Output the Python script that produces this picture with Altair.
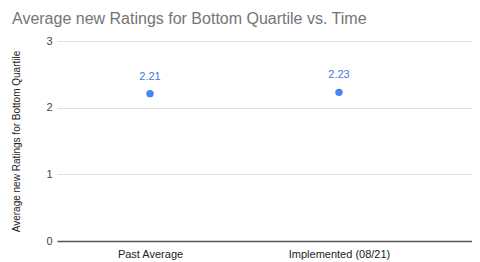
import altair as alt
import pandas as pd

categories = ["Past Average", "Implemented (08/21)"]
values = [2.21, 2.23]
labels = ["2.21", "2.23"]

df = pd.DataFrame({"cat": categories, "val": values, "lab": labels})

x = alt.X("cat:O", sort=categories,
          scale=alt.Scale(type="point", padding=0.598, align=0.4115),
          axis=alt.Axis(title=None, labelAngle=0, ticks=False, domain=True,
                        domainColor="#555555", domainWidth=1.5, grid=False,
                        labelFont="Liberation Sans", labelFontSize=11,
                        labelColor="#222222", labelPadding=7))
y = alt.Y("val:Q",
          scale=alt.Scale(domain=[0, 3], nice=False),
          axis=alt.Axis(title="Average new Ratings for Bottom Quartile", values=[0, 1, 2, 3],
                        format="d", ticks=False, domain=False, grid=True,
                        gridColor="#e0e0e0", labelFont="Liberation Sans",
                        labelFontSize=11, labelColor="#444444", labelPadding=5,
                        titleFont="Liberation Sans", titleFontSize=10,
                        titleFontWeight="normal", titleColor="#222222", titlePadding=24))

points = alt.Chart(df).mark_circle(size=55, color="#4285f4", opacity=1).encode(x=x, y=y)
text = alt.Chart(df).mark_text(dy=-17, font="Liberation Sans", fontSize=11,
                               color="#3f7ad6").encode(x=x, y=y, text="lab:N")

chart = (points + text).properties(
    width=415, height=200,
    title=alt.TitleParams("Average new Ratings for Bottom Quartile vs. Time",
                          font="Liberation Sans", fontSize=16, fontWeight="normal",
                          color="#757575", anchor="start", frame="group", dx=-45, offset=8),
    padding={"left": 49, "top": 33, "right": 0, "bottom": 21},
    autosize=alt.AutoSizeParams(type="none"),
).configure_view(stroke=None)

chart.save("out.html", embed_options={"renderer": "svg", "actions": False})
